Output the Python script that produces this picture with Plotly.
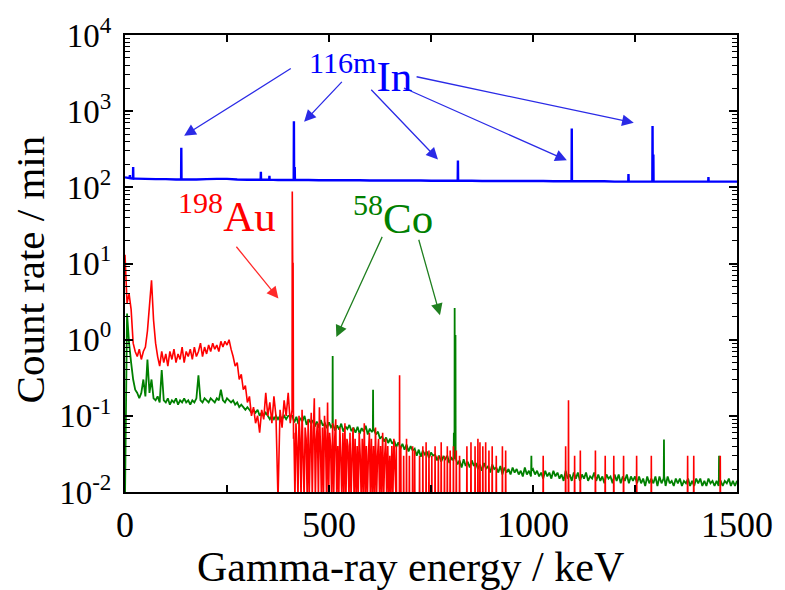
import plotly.graph_objects as go

# ---------------- data ----------------
# 198Au spectrum (red)
red_floor = 0.008   # zero-count channels (below the axis floor)
red_lo_start, red_lo_step = 0, 5
red_lo_vals = [13, 3, 4, 2.5, 0.9, 0.7, 0.6, 0.75, 0.55, 0.7,
               0.8, 1.3, 2.8, 6.0, 1.8, 0.9, 0.6, 0.45, 0.7, 0.5,
               0.65, 0.45, 0.7, 0.55, 0.75, 0.5, 0.65, 0.55, 0.8, 0.5,
               0.7, 0.6, 0.75, 0.55, 0.8, 0.6, 0.7, 0.9, 0.6, 0.8,
               0.65, 0.85, 0.7, 0.9, 0.75, 0.85, 0.7, 0.95, 0.8, 0.95,
               0.85, 1.0, 0.75, 0.6, 0.45, 0.5, 0.3, 0.35, 0.22, 0.25,
               0.15, 0.18, 0.1, 0.13, 0.08, 0.1, 0.06, 0.12, 0.09, 0.2,
               0.1, 0.15, 0.08, 0.18, 0.1, 0.008, 0.12, 0.07, 0.16, 0.1,
               0.2, 0.08]
red_peak_e = [409.5, 410, 411, 412, 413]
red_peak_v = [0.12, 88, 10, 10, 0.05]
red_mid_start, red_mid_step = 414, 2.5
red_mid_vals = [0.06, 0.008, 0.08, 0.04, 0.008, 0.1, 0.05, 0.008, 0.12, 0.03,
                0.008, 0.07, 0.05, 0.008, 0.09, 0.008, 0.04, 0.11, 0.008, 0.06,
                0.17, 0.008, 0.05, 0.08, 0.008, 0.13, 0.04, 0.008, 0.07, 0.008,
                0.1, 0.05, 0.008, 0.15, 0.008, 0.06, 0.04, 0.008, 0.08, 0.008,
                0.05, 0.09, 0.008, 0.04, 0.008, 0.07, 0.03, 0.008, 0.06, 0.008,
                0.08, 0.008, 0.05, 0.04, 0.008, 0.06, 0.008, 0.03, 0.07, 0.008,
                0.05, 0.008, 0.04, 0.008, 0.06, 0.03, 0.008, 0.05, 0.008, 0.08,
                0.008, 0.04, 0.008, 0.03, 0.06, 0.008, 0.05, 0.008, 0.04, 0.008,
                0.07, 0.008, 0.03, 0.05, 0.008, 0.04, 0.008, 0.06, 0.008, 0.03,
                0.05, 0.008, 0.04, 0.008, 0.03, 0.008, 0.04, 0.008, 0.05]
red_spike_e = [665, 673, 676, 683, 690, 697, 705, 710, 722, 730, 738, 745, 752,
               760, 768, 775, 783, 790, 797, 805, 812, 820, 838, 848, 858, 865,
               870, 877, 884, 892, 900, 910, 925, 933, 1025, 1080, 1087, 1102,
               1116, 1153, 1177, 1198, 1222, 1254, 1290, 1379, 1394, 1459]
red_spike_v = [0.04, 0.34, 0.04, 0.03, 0.05, 0.03, 0.04, 0.035, 0.03, 0.04, 0.045, 0.035, 0.03,
               0.04, 0.03, 0.045, 0.03, 0.04, 0.035, 0.04, 0.035, 0.03, 0.04, 0.045, 0.04, 0.05,
               0.045, 0.04, 0.045, 0.035, 0.04, 0.03, 0.04, 0.035, 0.03, 0.04, 0.16, 0.03,
               0.035, 0.035, 0.03, 0.03, 0.03, 0.03, 0.03, 0.03, 0.03, 0.03]

# 58Co spectrum (green)
green_lo_start, green_lo_step = 0, 5
green_lo_vals = [0.008, 2.2, 0.9, 0.5, 0.3, 0.22, 0.2, 0.17, 0.2, 0.3,
                 0.18, 0.55, 0.2, 0.3, 0.17, 0.16, 0.18, 0.15, 0.4, 0.16,
                 0.15, 0.17, 0.14, 0.16, 0.15, 0.17, 0.14, 0.16, 0.15, 0.17,
                 0.15, 0.16, 0.14, 0.16, 0.15, 0.17, 0.34, 0.16, 0.15, 0.17,
                 0.16, 0.15, 0.17, 0.16, 0.15, 0.17, 0.16, 0.22, 0.16, 0.15,
                 0.17, 0.16, 0.15, 0.16, 0.14, 0.15, 0.13, 0.14, 0.13, 0.12,
                 0.13, 0.12, 0.11, 0.12, 0.11, 0.12, 0.1, 0.11, 0.1, 0.11,
                 0.1, 0.09, 0.1, 0.09, 0.1, 0.09, 0.1, 0.09, 0.1, 0.09, 0.1]
green_hi_start, green_hi_step = 410, 5
green_hi_vals = [0.1, 0.082, 0.097, 0.078, 0.094, 0.085, 0.1, 0.076, 0.09, 0.081,
                 0.086, 0.072, 0.084, 0.07, 0.088, 0.074, 0.08, 0.069, 0.082, 0.071,
                 0.077, 0.064, 0.075, 0.066, 0.079, 0.062, 0.073, 0.067, 0.076, 0.063,
                 0.07, 0.06, 0.072, 0.058, 0.069, 0.062, 0.074, 0.057, 0.068, 0.061,
                 0.066, 0.057, 0.062, 0.05, 0.054, 0.046, 0.052, 0.044, 0.05, 0.043,
                 0.047, 0.039, 0.045, 0.037, 0.043, 0.036, 0.042, 0.034, 0.04, 0.035,
                 0.037, 0.03, 0.036, 0.029, 0.035, 0.031, 0.034, 0.028, 0.033, 0.03,
                 0.031, 0.026, 0.03, 0.025, 0.029, 0.027, 0.03, 0.024, 0.028, 0.026,
                 0.027, 0.023, 0.026, 0.021, 0.027, 0.022, 0.025, 0.021, 0.026, 0.022,
                 0.024, 0.02, 0.023, 0.019, 0.024, 0.02, 0.022, 0.018, 0.023, 0.02,
                 0.021, 0.018, 0.022, 0.017, 0.021, 0.018, 0.02, 0.017, 0.021, 0.018,
                 0.02, 0.017, 0.019, 0.016, 0.021, 0.017, 0.019, 0.016, 0.02, 0.017,
                 0.019, 0.016, 0.018, 0.015, 0.019, 0.016, 0.018, 0.015, 0.019, 0.016,
                 0.018, 0.015, 0.017, 0.014, 0.019, 0.015, 0.017, 0.014, 0.018, 0.015,
                 0.018, 0.014, 0.017, 0.015, 0.018, 0.014, 0.016, 0.015, 0.018, 0.014,
                 0.017, 0.014, 0.016, 0.013, 0.017, 0.015, 0.016, 0.013, 0.017, 0.014,
                 0.017, 0.013, 0.016, 0.014, 0.017, 0.013, 0.016, 0.014, 0.016, 0.013,
                 0.016, 0.013, 0.015, 0.012, 0.016, 0.013, 0.015, 0.013, 0.016, 0.012,
                 0.016, 0.013, 0.015, 0.012, 0.016, 0.013, 0.014, 0.012, 0.015, 0.013,
                 0.015, 0.012, 0.014, 0.013, 0.015, 0.012, 0.014, 0.012, 0.015, 0.013,
                 0.015, 0.012, 0.014, 0.012, 0.015, 0.013, 0.014, 0.012, 0.014, 0.012,
                 0.014, 0.012, 0.014, 0.013, 0.015, 0.012, 0.014, 0.012, 0.014]
green_peak_e = [509, 608, 806, 808, 810, 996, 1321, 1456]
green_peak_foot = [0.075, 0.065, 0.03, 0.028, 0.028, 0.019, 0.016, 0.014]
green_peak_top = [0.61, 0.22, 0.06, 2.6, 1.15, 0.03, 0.049, 0.03]

# 116mIn spectrum (blue, offset)
blue_start, blue_step = 0, 25
blue_vals = [135, 130, 129, 128, 128, 127, 127, 127, 128, 129,
             129, 127, 126, 126, 126, 125, 125, 125, 125, 124,
             124, 124, 124, 124, 123, 123, 123, 123, 123, 123,
             122, 122, 122, 122, 122, 121, 121, 121, 121, 121,
             121, 121, 120, 120, 120, 120, 120, 120, 119, 119,
             119, 119, 119, 119, 119, 119, 119, 119, 119, 119, 119]
blue_peak_e = [12, 20, 138, 333, 354, 414, 416, 816, 1095, 1234, 1293, 1295, 1430]
blue_peak_foot = [132, 130, 127, 126, 126, 125, 125, 122, 120, 119, 119, 119, 119]
blue_peak_top = [145, 185, 330, 160, 142, 740, 185, 225, 590, 150, 640, 270, 136]

# axis ticks
x_tick_vals = [0, 500, 1000, 1500]
x_tick_text = ["0", "500", "1000", "1500"]
x_minor_vals = [250, 750, 1250]
y_tick_vals = [1e-2, 1e-1, 1e0, 1e1, 1e2, 1e3, 1e4]
y_tick_text = ["10<sup>-2</sup>", "10<sup>-1</sup>", "10<sup>0</sup>", "10<sup>1</sup>",
               "10<sup>2</sup>", "10<sup>3</sup>", "10<sup>4</sup>"]


# ---------------- helpers ----------------
def grid(start, step, vals):
    return [(start + step * i, v) for i, v in enumerate(vals)]


def peaks(es, foots, tops, half=0.5):
    pts = []
    for e, f, t in zip(es, foots, tops):
        pts += [(e - half, f), (e, t), (e + half, f)]
    return pts


def xy(pts):
    pts = sorted(pts, key=lambda p: p[0])
    return [p[0] for p in pts], [p[1] for p in pts]


red_pts = (grid(red_lo_start, red_lo_step, red_lo_vals)
           + list(zip(red_peak_e, red_peak_v))
           + grid(red_mid_start, red_mid_step, red_mid_vals)
           + peaks(red_spike_e, [red_floor] * len(red_spike_e), red_spike_v)
           + [(1500, red_floor)])
green_pts = (grid(green_lo_start, green_lo_step, green_lo_vals)
             + grid(green_hi_start, green_hi_step, green_hi_vals)
             + peaks(green_peak_e, green_peak_foot, green_peak_top))
blue_pts = (grid(blue_start, blue_step, blue_vals)
            + peaks(blue_peak_e, blue_peak_foot, blue_peak_top))

rx, ry = xy(red_pts)
gx, gy = xy(green_pts)
bx, by = xy(blue_pts)

RED = "#ff0000"
GREEN = "#008000"
BLUE = "#0000ff"
FONT = "Liberation Serif"

fig = go.Figure()
fig.add_trace(go.Scatter(x=gx, y=gy, mode="lines",
                         line=dict(color=GREEN, width=1.8, simplify=False), showlegend=False))
fig.add_trace(go.Scatter(x=rx, y=ry, mode="lines",
                         line=dict(color=RED, width=1.6, simplify=False), showlegend=False))
fig.add_trace(go.Scatter(x=bx, y=by, mode="lines",
                         line=dict(color=BLUE, width=2.4, simplify=False), showlegend=False))

# ---------------- annotations ----------------
ann = []
# arrows: (tail_x, tail_logy, tip_x, tip_logy, color)
arrows = [
    (410, 3.572, 145, 2.678, "#2a2ae6"),
    (535, 3.404, 439, 2.860, "#2a2ae6"),
    (600, 3.30, 767, 2.367, "#2a2ae6"),
    (680, 3.313, 1083, 2.354, "#2a2ae6"),
    (711, 3.456, 1247, 2.847, "#2a2ae6"),
    (270, 1.240, 376, 0.540, "#ff2a2a"),
    (632, 1.369, 518, 0.035, "#1f7f1f"),
    (719, 1.331, 772, 0.320, "#1f7f1f"),
]
for tx, ty, hx, hy, c in arrows:
    ann.append(dict(x=hx, y=hy, ax=tx, ay=ty, xref="x", yref="y", axref="x", ayref="y",
                    text="", showarrow=True, arrowhead=2, arrowsize=1.8, arrowwidth=1.3,
                    arrowcolor=c, standoff=0, startstandoff=0))

labels = [
    ("<sup>116m</sup>In", 576, 3.50, BLUE),
    ("<sup>198</sup>Au", 249, 1.66, RED),
    ("<sup>58</sup>Co", 658, 1.64, GREEN),
]
for t, x, y, c in labels:
    ann.append(dict(x=x, y=y, xref="x", yref="y", text=t, showarrow=False,
                    font=dict(family=FONT, size=43, color=c), xanchor="center", yanchor="middle"))

ann.append(dict(x=0.466, y=-0.165, xref="paper", yref="paper", text="Gamma-ray energy / keV",
                showarrow=False, font=dict(family=FONT, size=42, color="black"),
                xanchor="center", yanchor="middle"))
ann.append(dict(x=-0.156, y=0.486, xref="paper", yref="paper", text="Count rate / min",
                showarrow=False, textangle=-90, font=dict(family=FONT, size=41, color="black"),
                xanchor="center", yanchor="middle"))

y_minor = [m * 10 ** p for p in range(-2, 4) for m in range(2, 10)]

fig.update_layout(
    width=785, height=590,
    margin=dict(l=125, r=38, t=29, b=98),
    paper_bgcolor="white", plot_bgcolor="white",
    font=dict(family=FONT, color="black"),
    annotations=ann,
    xaxis=dict(range=[0, 1500], tickmode="array", tickvals=x_tick_vals, ticktext=x_tick_text,
               ticks="inside", ticklen=7, tickwidth=1.5, tickcolor="black",
               minor=dict(tickmode="array", tickvals=x_minor_vals, ticks="inside", ticklen=7,
                          tickwidth=1.5, tickcolor="black", showgrid=False),
               showline=True, linecolor="black", linewidth=2, mirror="ticks",
               showgrid=False, zeroline=False, tickfont=dict(family=FONT, size=36)),
    yaxis=dict(type="log", range=[-2, 4], tickmode="array", tickvals=y_tick_vals, ticktext=y_tick_text,
               ticks="inside", ticklen=8, tickwidth=1.5, tickcolor="black",
               minor=dict(tickmode="array", tickvals=y_minor, ticks="inside", ticklen=5,
                          tickwidth=1.2, tickcolor="black", showgrid=False),
               showline=True, linecolor="black", linewidth=2, mirror="ticks",
               showgrid=False, zeroline=False, ticklabelstandoff=5,
               tickfont=dict(family=FONT, size=33)),
)

fig.write_html("out.html")
